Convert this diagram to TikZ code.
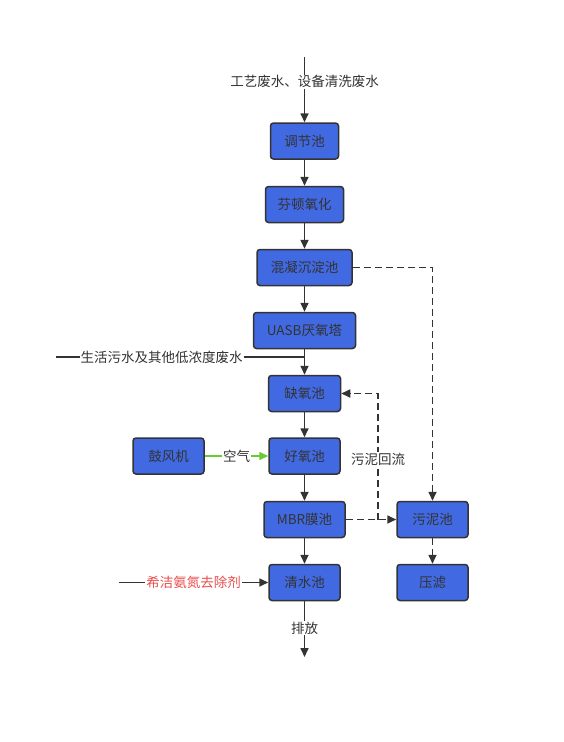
\documentclass[tikz,border=0pt]{standalone}
\usepackage{fontspec}
\setmainfont{Noto Sans CJK SC}
\usetikzlibrary{arrows.meta}
\definecolor{boxblue}{RGB}{65,105,225}
\definecolor{lin}{RGB}{51,51,51}
\definecolor{airgreen}{RGB}{102,204,51}
\definecolor{redtxt}{RGB}{235,77,77}
\begin{document}
\begin{tikzpicture}[x=1pt,y=-1pt,
 box/.style={draw=lin, line width=1.5pt, fill=boxblue, rounded corners=3pt, minimum height=36pt, inner sep=0pt, text=lin, font=\fontsize{13.5}{15}\selectfont},
 flow/.style={draw=lin, line width=1.6pt, -{Triangle[length=9pt,width=8pt]}},
 plain/.style={draw=lin, line width=1.6pt},
 dashline/.style={dash pattern=on 7pt off 4pt},
 lbl/.style={fill=white, inner sep=1pt, text=lin, font=\fontsize{13.5}{15}\selectfont}
]
\useasboundingbox (0,0) rectangle (563,742);
\node[box,minimum width=68pt] (tj) at (304.5,141) {调节池};
\node[box,minimum width=78pt] (fd) at (304.5,204.5) {芬顿氧化};
\node[box,minimum width=95pt] (hn) at (304.5,267.5) {混凝沉淀池};
\node[box,minimum width=102pt] (uasb) at (304.5,330.5) {UASB厌氧塔};
\node[box,minimum width=72pt] (qy) at (304.5,393.5) {缺氧池};
\node[box,minimum width=71pt] (gf) at (168.5,456) {鼓风机};
\node[box,minimum width=71pt] (hy) at (304.5,456) {好氧池};
\node[box,minimum width=81pt] (mbr) at (304.5,519.5) {MBR膜池};
\node[box,minimum width=71pt] (wn) at (432.5,519.5) {污泥池};
\node[box,minimum width=71pt] (qs) at (304.5,582.5) {清水池};
\node[box,minimum width=71pt] (yl) at (432.5,582.5) {压滤};

\coordinate (top) at (304.5,57);
\draw[flow] (top) -- node[lbl,pos=0.38]{工艺废水、设备清洗废水} (tj);
\draw[flow] (tj) -- (fd);
\draw[flow] (fd) -- (hn);
\draw[flow] (hn) -- (uasb);
\draw[flow] (uasb) -- (qy);
\draw[flow] (qy) -- (hy);
\draw[flow] (hy) -- (mbr);
\draw[flow] (mbr) -- (qs);

\coordinate (sh) at (56,357);
\coordinate (shj) at (304.5,357);
\draw[plain] (sh) -- node[lbl,pos=0.425]{生活污水及其他低浓度废水} (shj);

\draw[flow,draw=airgreen,fill=airgreen] (gf) -- node[lbl]{空气} (hy);

\coordinate (out) at (304.5,657);
\draw[flow] (qs) -- node[lbl,pos=0.48]{排放} (out);

\coordinate (xj) at (119,582.5);
\draw[flow] (xj) -- node[lbl,text=redtxt]{希洁氨氮去除剂} (qs);

\draw[flow,dashline] (hn.east) -- (hn.east -| wn) -- (wn);
\draw[flow,dashline] (mbr) -- (wn);
\coordinate (rb) at (378,519.5);
\draw[flow,dashline] (rb) -- node[lbl,pos=0.48]{污泥回流} (rb |- qy) -- (qy);
\draw[flow,dashline] (wn) -- (yl);
\end{tikzpicture}
\end{document}
